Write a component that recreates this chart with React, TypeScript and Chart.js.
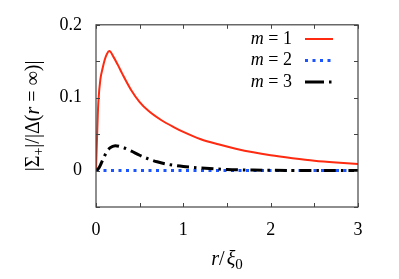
import React, { useEffect, useRef } from "react";
import { Chart, registerables } from "chart.js";

Chart.register(...registerables);

// r / xi_0 values and series values
const rRed = [0, 0.02, 0.027, 0.05, 0.077, 0.1, 0.125, 0.153, 0.2, 0.25, 0.3, 0.4, 0.5, 0.6, 0.75, 0.9, 1.0, 1.2, 1.4, 1.6, 1.8, 2.0, 2.25, 2.5, 2.75, 3.0];
const m1Values = [0, 0.075, 0.094, 0.125, 0.141, 0.152, 0.16, 0.164, 0.156, 0.145, 0.133, 0.111, 0.094, 0.082, 0.069, 0.059, 0.053, 0.043, 0.036, 0.03, 0.025, 0.021, 0.017, 0.0135, 0.011, 0.009];

const rBlue = [0, 0.5, 1.0, 1.5, 2.0, 2.5, 3.0];
const m2Values = [0, 0, 0, 0, 0, 0, 0];

const rBlack = [0, 0.03, 0.06, 0.09, 0.12, 0.16, 0.22, 0.3, 0.4, 0.5, 0.6, 0.7, 0.85, 1.0, 1.2, 1.5, 1.8, 2.2, 2.6, 3.0];
const m3Values = [0, 0.003, 0.01, 0.018, 0.025, 0.031, 0.034, 0.032, 0.027, 0.021, 0.016, 0.012, 0.008, 0.0055, 0.0035, 0.0015, 0.0007, 0.0002, 0, 0];

const seriesLabels = ["1", "2", "3"];
const xTickLabels = ["0", "1", "2", "3"];
const yTickLabels = ["0", "0.1", "0.2"];

const FONT = '"Liberation Serif"';

const toPoints = (xs: number[], ys: number[]) => xs.map((x, i) => ({ x, y: ys[i] }));

const decorPlugin = {
  id: "decor",
  afterDatasetsDraw(chart: any) {
    const ctx = chart.ctx as CanvasRenderingContext2D;
    const { left, right, top, bottom } = chart.chartArea;
    const xs = chart.scales.x;
    const ys = chart.scales.y;
    ctx.save();
    ctx.strokeStyle = "#444";
    ctx.lineWidth = 1.2;
    ctx.strokeRect(left, top, right - left, bottom - top);
    ctx.lineWidth = 1;
    const tl = 4;
    for (let v = 0; v <= 3.0001; v += 0.5) {
      const px = Math.round(xs.getPixelForValue(v)) + 0.5;
      ctx.beginPath();
      ctx.moveTo(px, bottom);
      ctx.lineTo(px, bottom - tl);
      ctx.moveTo(px, top);
      ctx.lineTo(px, top + tl);
      ctx.stroke();
    }
    for (let k = -1; k <= 4; k++) {
      const v = k * 0.05;
      const py = Math.round(ys.getPixelForValue(v)) + 0.5;
      ctx.beginPath();
      ctx.moveTo(left, py);
      ctx.lineTo(left + tl, py);
      ctx.moveTo(right, py);
      ctx.lineTo(right - tl, py);
      ctx.stroke();
    }
    // legend
    const rowsY = [39, 60.5, 82];
    const datasets = chart.data.datasets;
    [0, 1, 2].forEach((di, i) => {
      const ds = datasets[di];
      const y = rowsY[i];
      ctx.fillStyle = "#000";
      ctx.textBaseline = "middle";
      ctx.font = `18px ${FONT}`;
      const rest = " = " + seriesLabels[i];
      const restW = ctx.measureText(rest).width;
      const textRight = 292;
      ctx.textAlign = "left";
      ctx.fillText(rest, textRight - restW, y);
      ctx.font = `italic 18px ${FONT}`;
      const mW = ctx.measureText("m").width;
      ctx.fillText("m", textRight - restW - mW, y);
      ctx.beginPath();
      ctx.strokeStyle = ds.borderColor;
      ctx.lineWidth = ds.borderWidth;
      ctx.lineCap = "butt";
      ctx.setLineDash(ds.legendDash || []);
      ctx.moveTo(305, y);
      ctx.lineTo(333, y);
      ctx.stroke();
      ctx.setLineDash([]);
    });
    // x title
    const cx = (left + right) / 2;
    const ty = 265;
    ctx.fillStyle = "#000";
    ctx.textBaseline = "alphabetic";
    ctx.textAlign = "left";
    const parts: [string, string, number][] = [
      ["r", "italic 20px", 0],
      ["/", "20px", 0],
      ["ξ", "italic 20px", 0],
      ["0", "15px", 4],
    ];
    let total = 0;
    parts.forEach(([t, f]) => {
      ctx.font = `${f} ${FONT}`;
      total += ctx.measureText(t).width + (t === "/" ? 2 : 0);
    });
    let px = cx - total / 2;
    parts.forEach(([t, f, dy]) => {
      ctx.font = `${f} ${FONT}`;
      ctx.fillText(t, px, ty + dy);
      px += ctx.measureText(t).width + (t === "/" ? 2 : 0);
    });
    // y title
    ctx.save();
    ctx.translate(39, (top + bottom) / 2);
    ctx.rotate(-Math.PI / 2);
    const yparts: [string, string, number][] = [
      ["|Σ", "20px", 0],
      ["+", "14px", 4],
      ["|/|Δ(", "20px", 0],
      ["r", "italic 20px", 0],
      [" = ∞)|", "20px", 0],
    ];
    let yt = 0;
    yparts.forEach(([t, f]) => {
      ctx.font = `${f} ${FONT}`;
      yt += ctx.measureText(t).width;
    });
    let yx = -yt / 2;
    yparts.forEach(([t, f, dy]) => {
      ctx.font = `${f} ${FONT}`;
      ctx.fillText(t, yx, dy);
      yx += ctx.measureText(t).width;
    });
    ctx.restore();
    ctx.restore();
  },
};

export default function App() {
  const ref = useRef<HTMLCanvasElement>(null);
  useEffect(() => {
    if (!ref.current) return;
    const chart = new Chart(ref.current, {
      type: "line",
      data: {
        datasets: [
          {
            label: "m = 1",
            data: toPoints(rRed, m1Values),
            borderColor: "#ff2a10",
            borderWidth: 2,
            pointRadius: 0,
            cubicInterpolationMode: "monotone",
            order: 1,
          } as any,
          {
            label: "m = 2",
            data: toPoints(rBlue, m2Values),
            borderColor: "#1a55ff",
            borderWidth: 3,
            borderDash: [3, 4.5],
            legendDash: [3, 4.5],
            pointRadius: 0,
            order: 2,
          } as any,
          {
            label: "m = 3",
            data: toPoints(rBlack, m3Values),
            borderColor: "#000",
            borderWidth: 3,
            borderDash: [12, 5, 2.5, 5],
            legendDash: [19, 5, 2.5, 5],
            pointRadius: 0,
            cubicInterpolationMode: "monotone",
            order: 0,
          } as any,
        ],
      },
      options: {
        animation: false,
        responsive: false,
        layout: { padding: { top: 22, right: 41, left: 0, bottom: 0 } },
        plugins: { legend: { display: false }, tooltip: { enabled: false } },
        scales: {
          x: {
            type: "linear",
            min: 0,
            max: 3,
            grid: { display: false, drawTicks: false },
            border: { display: false },
            ticks: {
              stepSize: 0.5,
              autoSkip: false,
              maxRotation: 0,
              padding: 12,
              color: "#000",
              font: { family: FONT, size: 18 },
              callback: (v: any) => {
                const n = Number(v);
                const s = String(Math.round(n));
                return Math.abs(n - Math.round(n)) < 1e-6 && xTickLabels.includes(s) ? s : "";
              },
            },
            afterFit: (s: any) => {
              s.height = 72;
            },
          },
          y: {
            type: "linear",
            min: -0.05,
            max: 0.2,
            grid: { display: false, drawTicks: false },
            border: { display: false },
            ticks: {
              stepSize: 0.05,
              autoSkip: false,
              padding: 14,
              color: "#000",
              font: { family: FONT, size: 18 },
              callback: (v: any) => {
                const n = Math.round(Number(v) * 100) / 100;
                const s = n === 0 ? "0" : n.toFixed(1);
                return Math.abs(n * 10 - Math.round(n * 10)) < 1e-6 && yTickLabels.includes(s) ? s : "";
              },
            },
            afterFit: (s: any) => {
              s.width = 96;
            },
          },
        },
      } as any,
      plugins: [decorPlugin],
    });
    let alive = true;
    const fonts = (document as any).fonts;
    if (fonts && fonts.ready) fonts.ready.then(() => { if (alive) chart.update(); }).catch(() => {});
    return () => {
      alive = false;
      chart.destroy();
    };
  }, []);
  return (
    <div style={{ position: "fixed", left: 0, top: 0, width: 399, height: 279, background: "#fff" }}>
      <canvas ref={ref} width={399} height={279} style={{ width: 399, height: 279 }} />
    </div>
  );
}
